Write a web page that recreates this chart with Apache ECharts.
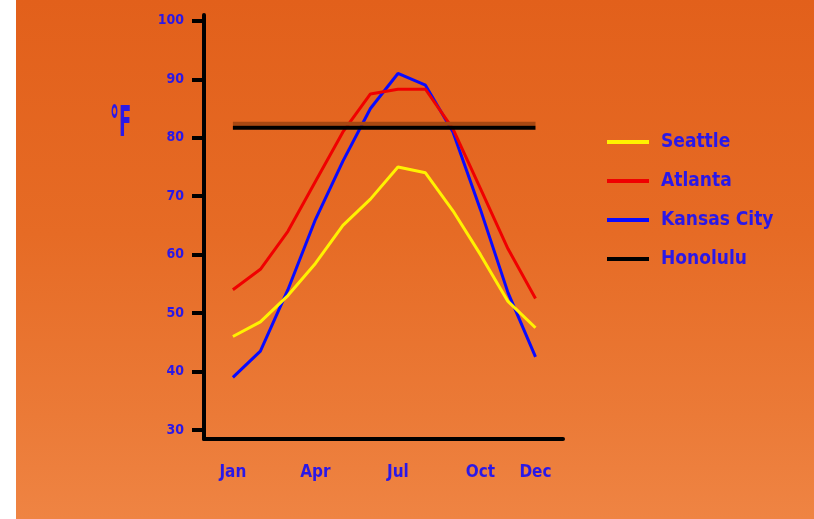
<!DOCTYPE html>
<html>
<head>
<meta charset="utf-8">
<script src="https://cdn.jsdelivr.net/npm/echarts@6/dist/echarts.min.js"></script>
<style>
  html, body { margin: 0; padding: 0; background: #ffffff; }
  #wrap { position: relative; width: 814px; height: 519px; overflow: hidden; }
  #bg { position: absolute; left: 16px; top: 0; right: 0; bottom: 0;
        background: linear-gradient(to bottom, #e2601b 0%, #e66b25 45%, #eb7a37 80%, #ef8443 100%); }
  #chart { position: absolute; left: 0; top: 0; width: 814px; height: 519px; }
</style>
</head>
<body>
<div id="wrap">
  <div id="bg"></div>
  <div id="chart"></div>
</div>
<script>
// Monthly normal temperatures (°F)
const months = ['Jan', 'Feb', 'Mar', 'Apr', 'May', 'Jun', 'Jul', 'Aug', 'Sep', 'Oct', 'Nov', 'Dec'];
const labeledMonths = [0, 3, 6, 9, 11];
const yTicks = [30, 40, 50, 60, 70, 80, 90, 100];

const seattle    = [46, 48.5, 53, 58.5, 65, 69.5, 75, 74, 67.5, 60, 52, 47.5];
const atlanta    = [54, 57.5, 64, 72.5, 81, 87.5, 88.3, 88.3, 81.5, 71.3, 61, 52.5];
const kansasCity = [39, 43.5, 54, 66, 76, 85, 91, 89, 81, 67.7, 53.5, 42.5];
const honolulu   = [81.7, 81.7, 81.7, 81.7, 81.7, 81.7, 81.7, 81.7, 81.7, 81.7, 81.7, 81.7];

const FONT = "'Liberation Sans Narrow', 'Arial Narrow', 'DejaVu Sans Condensed', sans-serif";
const TEXT_BLUE = '#2a18e8';

function pairs(arr) { return arr.map((v, i) => [i, v]); }

function lineSeries(name, data, color, z, extra) {
  return Object.assign({
    name: name,
    type: 'line',
    data: pairs(data),
    showSymbol: false,
    symbol: 'none',
    z: z,
    lineStyle: { color: color, width: 3 },
    itemStyle: { color: color },
    emphasis: { disabled: true }
  }, extra || {});
}

const chart = echarts.init(document.getElementById('chart'), null, { renderer: 'canvas' });

chart.setOption({
  backgroundColor: 'transparent',
  animation: false,
  grid: { left: 204, right: 251, top: 15, bottom: 80, containLabel: false },
  xAxis: {
    type: 'value',
    min: -1.05,
    max: 12.0,
    splitLine: { show: false },
    axisLine: { show: true, onZero: false, lineStyle: { color: '#000', width: 4 } },
    axisTick: { show: false },
    axisLabel: {
      customValues: labeledMonths,
      formatter: v => months[v],
      margin: 25,
      color: TEXT_BLUE,
      fontFamily: FONT,
      fontWeight: 'bold',
      fontSize: 17
    }
  },
  yAxis: {
    type: 'value',
    min: 28.46,
    max: 101.0,
    splitLine: { show: false },
    axisLine: { show: true, onZero: false, lineStyle: { color: '#000', width: 4 } },
    axisTick: { show: true, customValues: yTicks, length: 12, lineStyle: { color: '#000', width: 4 } },
    axisLabel: {
      customValues: yTicks,
      margin: 20,
      color: TEXT_BLUE,
      fontFamily: FONT,
      fontWeight: 'bold',
      fontSize: 14
    }
  },
  legend: {
    orient: 'vertical',
    left: 602,
    top: 125,
    icon: 'rect',
    itemWidth: 42,
    itemHeight: 4,
    itemGap: 15,
    selectedMode: false,
    textStyle: {
      color: TEXT_BLUE,
      fontFamily: FONT,
      fontWeight: 'bold',
      fontSize: 19,
      lineHeight: 24,
      padding: [0, 0, 0, 7]
    },
    data: ['Seattle', 'Atlanta', 'Kansas City', 'Honolulu']
  },
  graphic: [{
    type: 'text',
    left: 110,
    top: 104,
    scaleY: 2.1,
    originY: 0,
    style: {
      text: '°F',
      fill: TEXT_BLUE,
      font: "bold 20px " + FONT
    }
  }],
  series: [
    lineSeries('Kansas City', kansasCity, '#0a0aff', 3),
    lineSeries('Atlanta', atlanta, '#f00000', 4),
    lineSeries('Seattle', seattle, '#fff200', 5),
    lineSeries('Honolulu', honolulu, '#000000', 6, {
      lineStyle: { color: '#000', width: 4, shadowColor: '#a84812', shadowBlur: 0, shadowOffsetY: -4 }
    })
  ]
});
</script>
</body>
</html>
